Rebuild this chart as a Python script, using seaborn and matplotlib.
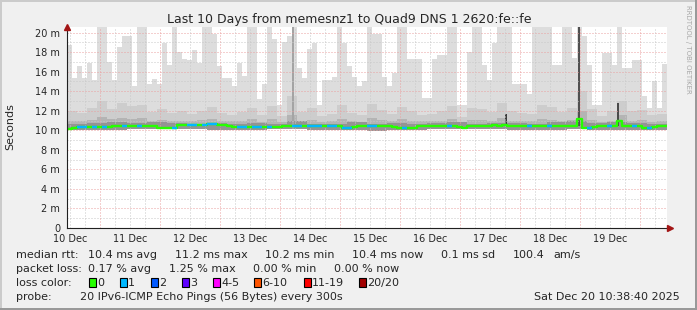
import numpy as np
import pandas as pd
import matplotlib
matplotlib.use("Agg")
import matplotlib.pyplot as plt
from matplotlib.patches import Rectangle
import seaborn as sns

# ---------------- data (ms, hours after 10 Dec 00:00) ----------------
start_hour = 10.64          # 10 Dec 10:38
end_hour = 250.64           # 20 Dec 10:38

# smoke maximum, 2-hour bins (120)
smoke_max = [18.7, 15.3, 16.6, 15.3, 16.9, 15.1, 22, 22, 17.0, 15.1,
             18.5, 19.6, 19.6, 14.5, 22, 22, 14.7, 15.2, 14.7, 18.9,
             16.7, 22, 18.0, 17.3, 17.2, 18.2, 16.9, 22, 22, 19.9,
             16.6, 15.4, 15.4, 14.5, 16.9, 15.6, 22, 22, 13.2, 14.7,
             22, 19.3, 12.6, 19.0, 19.6, 22, 16.4, 15.3, 18.3, 18.9,
             12.6, 15.1, 15.1, 15.5, 22, 18.9, 16.6, 15.5, 14.5, 15.0,
             22, 19.9, 19.9, 15.5, 14.5, 15.9, 22, 22, 17.3, 17.3,
             17.3, 13.3, 13.3, 17.3, 17.7, 17.7, 22, 22, 12.6, 12.6,
             18.0, 22, 22, 16.7, 15.1, 18.9, 22, 22, 22, 14.7,
             14.7, 14.7, 13.7, 22, 22, 22, 22, 16.7, 16.7, 22,
             22, 17.4, 22, 19.6, 16.7, 12.6, 12.6, 17.9, 17.9, 16.7,
             22, 16.4, 16.4, 17.2, 17.2, 13.5, 12.3, 15.0, 12.3, 16.8]

# inner smoke (90th pct), 4-hour bins (60)
smoke_p90 = [12.0, 11.8, 12.3, 13.0, 12.2, 12.8, 12.5, 12.6, 11.9, 12.2,
             11.8, 12.0, 11.7, 12.0, 12.4, 11.8, 11.6, 11.9, 12.3, 11.6,
             12.5, 11.5, 13.5, 11.9, 12.3, 11.5, 11.7, 12.6, 11.8, 11.6,
             12.7, 12.1, 11.7, 12.4, 12.0, 11.6, 11.7, 12.0, 12.5, 11.4,
             12.3, 12.2, 11.9, 12.8, 12.0, 11.8, 11.7, 12.6, 12.4, 11.9,
             12.3, 14.0, 12.2, 11.5, 12.0, 13.0, 12.0, 12.1, 11.6, 11.7]

# inner smoke (75th pct), 4-hour bins (60)
smoke_p75 = [11.0, 10.9, 11.1, 11.4, 11.2, 11.3, 11.2, 11.3, 11.0, 11.1,
             10.9, 11.0, 10.9, 11.1, 11.2, 10.9, 10.9, 11.0, 11.2, 10.8,
             11.2, 10.8, 11.6, 11.0, 11.1, 10.8, 10.9, 11.2, 11.0, 10.8,
             11.3, 11.1, 10.9, 11.2, 11.0, 10.9, 10.9, 11.0, 11.2, 10.8,
             11.1, 11.1, 11.0, 11.3, 11.0, 10.9, 10.9, 11.2, 11.1, 11.0,
             11.1, 12.0, 11.1, 10.8, 11.0, 11.6, 11.0, 11.1, 10.8, 10.9]

# core smoke (60th pct), 8-hour bins (30)
smoke_p60 = [10.6, 10.7, 10.8, 10.7, 10.8, 10.7, 10.6, 10.7, 10.6, 10.7,
             10.6, 10.9, 10.6, 10.6, 10.8, 10.6, 10.7, 10.6, 10.7, 10.8,
             10.6, 10.7, 10.7, 10.6, 10.8, 10.9, 10.7, 10.8, 10.7, 10.6]

# smoke minimum, 8-hour bins (30)
smoke_min = [10.0, 10.0, 10.05, 10.1, 10.1, 10.1, 10.1, 10.05, 10.0, 10.05,
             10.1, 10.1, 10.05, 10.0, 10.0, 9.95, 10.0, 10.05, 10.1, 10.1,
             10.1, 10.1, 10.05, 10.0, 10.05, 10.1, 10.05, 10.0, 10.0, 10.05]

# median rtt, 2-hour bins (120)
median_rtt = [10.17, 10.2, 10.3, 10.3, 10.3, 10.3, 10.3, 10.35, 10.35, 10.4,
              10.4, 10.4, 10.4, 10.4, 10.45, 10.4, 10.4, 10.4, 10.2, 10.2,
              10.2, 10.25, 10.5, 10.5, 10.5, 10.5, 10.5, 10.55, 10.6, 10.6,
              10.5, 10.5, 10.45, 10.3, 10.3, 10.35, 10.3, 10.3, 10.35, 10.3,
              10.3, 10.3, 10.3, 10.4, 10.4, 10.4, 10.45, 10.4, 10.4, 10.4,
              10.45, 10.4, 10.4, 10.4, 10.4, 10.27, 10.27, 10.3, 10.4, 10.4,
              10.4, 10.4, 10.4, 10.4, 10.4, 10.35, 10.2, 10.2, 10.2, 10.25,
              10.4, 10.4, 10.4, 10.4, 10.45, 10.4, 10.4, 10.4, 10.35, 10.2,
              10.4, 10.45, 10.45, 10.45, 10.45, 10.5, 10.45, 10.5, 10.45, 10.45,
              10.45, 10.4, 10.45, 10.45, 10.45, 10.45, 10.45, 10.45, 10.45, 10.45,
              10.45, 10.45, 11.2, 10.2, 10.2, 10.3, 10.4, 10.4, 10.4, 10.4,
              11.0, 10.4, 10.4, 10.4, 10.4, 10.27, 10.27, 10.3, 10.45, 10.45]

# lost pings per bin (0 or 1), 2-hour bins (120)
loss = [0, 0, 1, 1, 0, 1, 0, 1, 0, 0,
        0, 1, 0, 0, 1, 0, 0, 0, 0, 0,
        0, 1, 0, 0, 1, 1, 0, 1, 1, 1,
        0, 0, 0, 0, 1, 1, 0, 1, 1, 0,
        1, 0, 0, 0, 0, 1, 1, 0, 1, 1,
        1, 0, 1, 1, 0, 1, 1, 0, 0, 0,
        1, 1, 0, 0, 0, 0, 0, 1, 0, 0,
        0, 0, 0, 0, 0, 0, 1, 0, 0, 0,
        0, 0, 0, 0, 0, 0, 0, 0, 0, 0,
        0, 0, 1, 0, 0, 0, 1, 0, 0, 0,
        0, 0, 0, 0, 1, 0, 0, 0, 1, 0,
        0, 0, 0, 1, 0, 0, 1, 0, 0, 0]

# narrow dark smoke spikes (hour, bottom, top, grey)
spike_hours = [101.0, 186.2, 215.4, 231.0]
spike_bottom = [10.1, 10.4, 10.4, 10.4]
spike_top = [22.0, 11.7, 22.0, 12.8]
spike_grey = ["#a4a4a4", "#3a3a3a", "#505050", "#4a4a4a"]

day_labels = ["10 Dec", "11 Dec", "12 Dec", "13 Dec", "14 Dec",
              "15 Dec", "16 Dec", "17 Dec", "18 Dec", "19 Dec"]
y_ticks = [0, 2, 4, 6, 8, 10, 12, 14, 16, 18, 20]
y_labels = ["0", "2 m", "4 m", "6 m", "8 m", "10 m", "12 m", "14 m", "16 m", "18 m", "20 m"]

title = "Last 10 Days from memesnz1 to Quad9 DNS 1 2620:fe::fe"
rtt_stats = ["10.4 ms avg", "11.2 ms max", "10.2 ms min", "10.4 ms now", "0.1 ms sd", "100.4", "am/s"]
loss_stats = ["0.17 % avg", "1.25 % max", "0.00 % min", "0.00 % now"]
loss_names = ["0", "1", "2", "3", "4-5", "6-10", "11-19", "20/20"]
loss_colors = ["#26ff00", "#00b8ff", "#0059ff", "#5e00ff", "#ff00ff", "#ff5500", "#ff0000", "#a10000"]
probe_text = "20 IPv6-ICMP Echo Pings (56 Bytes) every 300s"
date_text = "Sat Dec 20 10:38:40 2025"

# ---------------- style ----------------
sns.set_style("white")
plt.rcParams["font.family"] = ["DejaVu Sans"]
W, H = 697, 310
fig = plt.figure(figsize=(W / 100, H / 100), dpi=100, facecolor="#f0f0f0")

def fx(px):
    return px / W

def fy(py):
    return 1 - py / H

# 3D border
fig.add_artist(Rectangle((0, fy(2)), 1, 2 / H, transform=fig.transFigure, color="#cbcbcb", lw=0))
fig.add_artist(Rectangle((0, 0), 2 / W, 1, transform=fig.transFigure, color="#cbcbcb", lw=0))
fig.add_artist(Rectangle((fx(695), 0), 2 / W, 1, transform=fig.transFigure, color="#999999", lw=0))
fig.add_artist(Rectangle((0, 0), 1, 2 / H, transform=fig.transFigure, color="#999999", lw=0))

ax_l, ax_r, ax_b, ax_t = 67, 667, 228, 26.7
ax = fig.add_axes([fx(ax_l), fy(ax_b), fx(ax_r - ax_l), (ax_b - ax_t) / H])
ax.set_facecolor("white")
ax.set_xlim(start_hour, end_hour)
ax.set_ylim(0, 20.6)

# ---------------- smoke ----------------
n2 = len(smoke_max)
w2 = (end_hour - start_hour) / n2
w4 = (end_hour - start_hour) / len(smoke_p90)
w8 = (end_hour - start_hour) / len(smoke_p60)
x2 = start_hour + w2 * np.arange(n2)
x4 = start_hour + w4 * np.arange(len(smoke_p90))
x8 = start_hour + w8 * np.arange(len(smoke_p60))

min2 = np.repeat(smoke_min, n2 // len(smoke_min))
min4 = np.repeat(smoke_min, len(smoke_p90) // len(smoke_min))
min8 = np.array(smoke_min)

ax.bar(x2, np.array(smoke_max) - min2, bottom=min2, width=w2, align="edge",
       color="#dddddd", linewidth=0, zorder=1)
ax.bar(x4, np.array(smoke_p90) - min4, bottom=min4, width=w4, align="edge",
       color="#cdcdcd", linewidth=0, zorder=2)
ax.bar(x4, np.array(smoke_p75) - min4, bottom=min4, width=w4, align="edge",
       color="#b4b4b4", linewidth=0, zorder=3)
ax.bar(x8, np.array(smoke_p60) - min8, bottom=min8, width=w8, align="edge",
       color="#949494", linewidth=0, zorder=4)
ax.bar(spike_hours, np.array(spike_top) - np.array(spike_bottom), bottom=spike_bottom,
       width=1.0, align="center", color=spike_grey, linewidth=0, zorder=5)

# ---------------- grid ----------------
dot = (0, (1, 2))
for v in np.arange(1, 21, 1):
    if v % 2:
        ax.axhline(v, color="#c8c8c8", lw=0.72, ls=dot, zorder=6)
    else:
        ax.axhline(v, color="#eaa0a0", lw=0.72, ls=dot, zorder=6)
for h in np.arange(12, end_hour, 6):
    if h % 24:
        ax.axvline(h, color="#c8c8c8", lw=0.72, ls=dot, zorder=6)
    else:
        ax.axvline(h, color="#eaa0a0", lw=0.72, ls=dot, zorder=6)

# ---------------- median line ----------------
med_df = pd.DataFrame({"hour": list(x2) + [end_hour],
                       "median": list(median_rtt) + [median_rtt[-1]]})
sns.lineplot(data=med_df, x="hour", y="median", ax=ax, color=loss_colors[0],
             lw=1.7, drawstyle="steps-post", estimator=None, zorder=7)
loss_arr = np.array(loss)
ax.hlines(np.array(median_rtt)[loss_arr > 0], x2[loss_arr > 0], x2[loss_arr > 0] + w2,
          colors=[loss_colors[k] for k in loss_arr[loss_arr > 0]], lw=1.7, zorder=8)

# ---------------- axes ----------------
ax.set_xlabel("")
ax.set_ylabel("")
for s in ["top", "right"]:
    ax.spines[s].set_visible(False)
for s in ["left", "bottom"]:
    ax.spines[s].set_color("#202020")
    ax.spines[s].set_linewidth(0.8)
    ax.spines[s].set_zorder(9)
ax.set_yticks(y_ticks)
ax.set_yticklabels(y_labels)
ax.set_xticks(np.arange(12, 12 + 24 * len(day_labels), 24))
ax.set_xticklabels(day_labels)
ax.tick_params(axis="y", length=2.5, width=0.8, color="#202020", pad=2.5, labelsize=7)
ax.tick_params(axis="x", length=0, pad=4.2, labelsize=7)
ax.plot([start_hour], [20.6], marker="^", color="#a31515", ms=4.5, clip_on=False, zorder=10)
ax.plot([end_hour + 1.2], [0], marker=">", color="#a31515", ms=4.5, clip_on=False, zorder=10)
ax.plot([end_hour, end_hour + 1.2], [0, 0], color="#202020", lw=0.8, clip_on=False, zorder=9)

# ---------------- texts ----------------
fig.text(fx(349), fy(19), title, ha="center", va="center", fontsize=9)
fig.text(fx(10), fy(127), "Seconds", rotation=90, ha="center", va="center", fontsize=8)
fig.text(fx(688), fy(5), "RRDTOOL / TOBI OETIKER", rotation=270, ha="center", va="top",
         fontsize=5, color="#a8a8a8")

fs = 8
rows = [258.3, 272.3, 286.3, 300.3]
fig.text(fx(16), fy(rows[0]), "median rtt:", fontsize=fs, va="baseline")
for xp, t in zip([87.6, 174.7, 265, 352, 441, 513, 553], rtt_stats):
    fig.text(fx(xp), fy(rows[0]), t, fontsize=fs, va="baseline")
fig.text(fx(16), fy(rows[1]), "packet loss:", fontsize=fs, va="baseline")
for xp, t in zip([87.6, 169, 253, 334], loss_stats):
    fig.text(fx(xp), fy(rows[1]), t, fontsize=fs, va="baseline")
fig.text(fx(16), fy(rows[2]), "loss color:", fontsize=fs, va="baseline")
for xp, t, c in zip([89, 120, 151, 182, 213, 254, 303.5, 359], loss_names, loss_colors):
    fig.add_artist(Rectangle((fx(xp), fy(286.7)), 7 / W, 9 / H, transform=fig.transFigure,
                             facecolor=c, edgecolor="black", lw=0.8))
    fig.text(fx(xp + 8), fy(rows[2]), t, fontsize=fs, va="baseline")
fig.text(fx(16), fy(rows[3]), "probe:", fontsize=fs, va="baseline")
fig.text(fx(80), fy(rows[3]), probe_text, fontsize=fs, va="baseline")
fig.text(fx(680), fy(rows[3]), date_text, fontsize=fs, va="baseline", ha="right")

fig.savefig("out.png", dpi=100, facecolor=fig.get_facecolor())
